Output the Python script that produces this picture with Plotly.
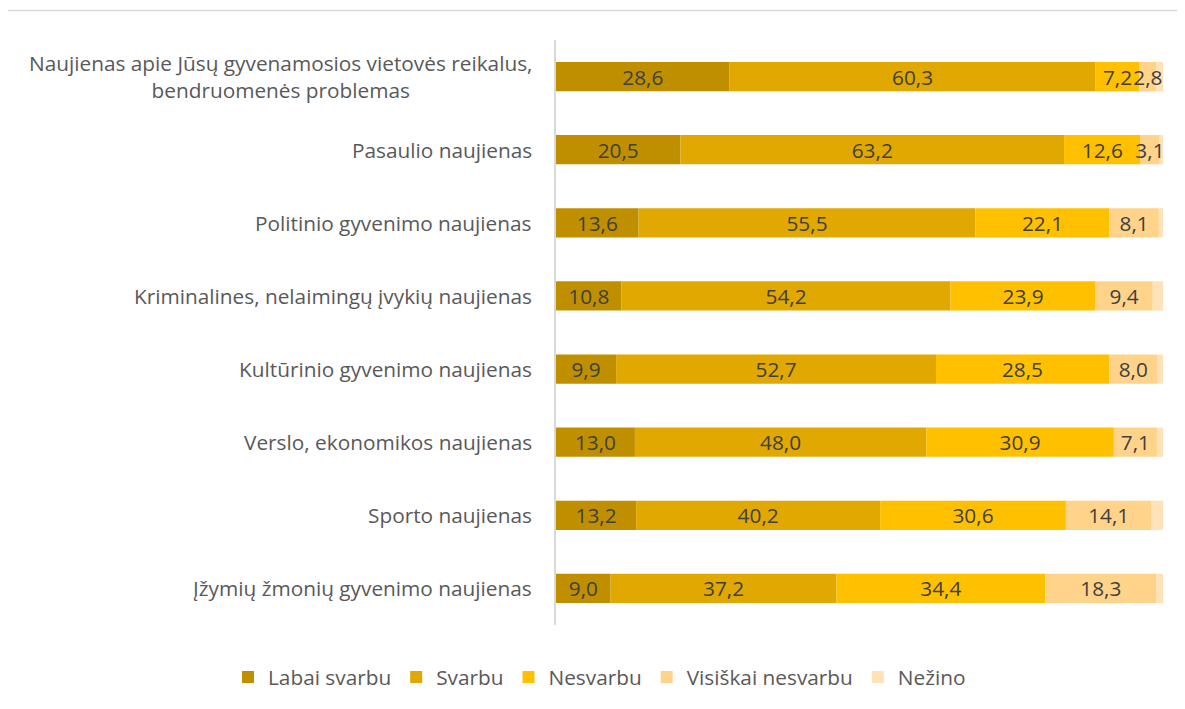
import plotly.graph_objects as go

categories = [
    "Naujienas apie Jūsų gyvenamosios vietovės reikalus,<br>bendruomenės problemas",
    "Pasaulio naujienas",
    "Politinio gyvenimo naujienas",
    "Kriminalines, nelaimingų įvykių naujienas",
    "Kultūrinio gyvenimo naujienas",
    "Verslo, ekonomikos naujienas",
    "Sporto naujienas",
    "Įžymių žmonių gyvenimo naujienas",
]
labai_svarbu = [28.6, 20.5, 13.6, 10.8, 9.9, 13.0, 13.2, 9.0]
svarbu = [60.3, 63.2, 55.5, 54.2, 52.7, 48.0, 40.2, 37.2]
nesvarbu = [7.2, 12.6, 22.1, 23.9, 28.5, 30.9, 30.6, 34.4]
visiskai_nesvarbu = [2.8, 3.1, 8.1, 9.4, 8.0, 7.1, 14.1, 18.3]
nezino = [1.1, 0.6, 0.7, 1.7, 0.9, 1.0, 1.9, 1.1]

series = [
    ("Labai svarbu", labai_svarbu, "#BF8F00", True),
    ("Svarbu", svarbu, "#E0A800", True),
    ("Nesvarbu", nesvarbu, "#FFC000", True),
    ("Visiškai nesvarbu", visiskai_nesvarbu, "#FFD38A", True),
    ("Nežino", nezino, "#FFE2B8", False),
]

FONT = "Open Sans"
FS = 20.8
# page body has an 8px margin; figure placed at (8,8)
W, H = 1177, 701
L, T = 548, 32
PW, PH = 607, 585

# stacked bases (cumulative sums of the series before each one)
bases = []
running = [0.0] * len(categories)
for _, vals, _, _ in series:
    bases.append(list(running))
    running = [r + v for r, v in zip(running, vals)]

fig = go.Figure()
# draw the unlabelled segment first so labels of the others sit on top
order = [4, 0, 1, 2, 3]
for i in order:
    name, vals, color, show_text = series[i]
    fig.add_trace(go.Bar(
        name=name,
        y=categories,
        x=vals,
        base=bases[i],
        orientation="h",
        legendrank=i + 1,
        marker=dict(color=color, line=dict(width=0)),
        text=vals if show_text else None,
        texttemplate="%{x:.1f}" if show_text else None,
        textposition="inside" if show_text else "none",
        insidetextanchor="middle",
        textangle=0,
        constraintext="none",
        cliponaxis=False,
        textfont=dict(family=FONT, size=FS, color="#404040"),
        hoverinfo="skip",
    ))

for c in categories:
    fig.add_annotation(
        x=0, xref="paper", y=c, yref="y",
        text=c, showarrow=False, xanchor="right", yanchor="middle",
        align="center", xshift=-22,
        font=dict(family=FONT, size=FS, color="#595959"),
    )

fig.update_layout(
    barmode="overlay",
    bargap=0.6,
    separators=", ",
    width=W,
    height=H,
    margin=dict(l=L, r=W - L - PW, t=T, b=H - T - PH, autoexpand=False),
    paper_bgcolor="white",
    plot_bgcolor="white",
    uniformtext=dict(mode="show", minsize=FS),
    font=dict(family=FONT, color="#595959"),
    showlegend=True,
    legend=dict(
        orientation="h",
        xref="paper", x=(220 - L) / PW, xanchor="left",
        yref="paper", y=-(669.5 - (T + PH)) / PH, yanchor="middle",
        font=dict(family=FONT, size=FS, color="#595959"),
        traceorder="normal",
        itemsizing="constant",
    ),
    xaxis=dict(range=[0, 100], visible=False, fixedrange=True),
    yaxis=dict(
        autorange="reversed",
        showticklabels=False,
        showline=True,
        linecolor="#D9D9D9",
        linewidth=2,
        ticks="",
        showgrid=False,
    ),
    shapes=[
        dict(type="rect", xref="paper", yref="paper",
             x0=(-1 - L) / PW, x1=(1190 - L) / PW,
             y0=(T + PH - 720) / PH, y1=(T + PH - 2.5) / PH,
             line=dict(color="#D9D9D9", width=1.5), layer="below"),
    ],
)

fig.write_html("out.html")
